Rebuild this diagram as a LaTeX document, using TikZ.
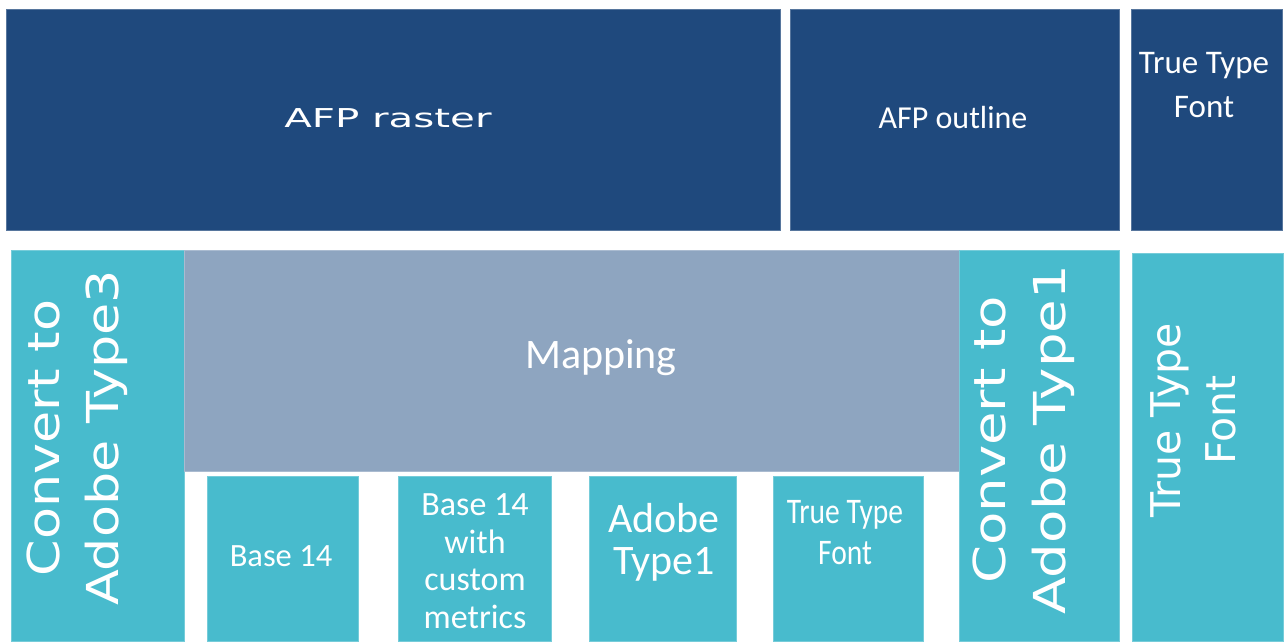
\documentclass[tikz,border=0pt]{standalone}
\usepackage{fontspec}
\setmainfont{Carlito}
\newfontfamily\dejavu{DejaVu Sans}
\definecolor{afpblue}{RGB}{31,73,125}
\definecolor{aqua}{RGB}{72,187,205}
\definecolor{mapgray}{RGB}{142,165,192}
\begin{document}
\begin{tikzpicture}[x=1pt,y=-1pt,
    box/.style={fill=#1, draw=#1!75!white, line width=0.6pt, anchor=north west,
                inner sep=0pt, outer sep=0pt},
    lbl/.style={text=white, inner sep=0pt, align=center}]
    \useasboundingbox (0,0) rectangle (1287,641);
    % top row
    \node[box=afpblue, minimum width=774pt, minimum height=221pt] (raster)  at (6,9)    {};
    \node[box=afpblue, minimum width=329pt, minimum height=221pt] (outline) at (790,9)  {};
    \node[box=afpblue, minimum width=151pt, minimum height=221pt] (ttftop)  at (1131,9) {};
    % bottom row
    \node[box=aqua,    minimum width=173pt, minimum height=391pt] (conva)   at (11,250)  {};
    \node[box=mapgray, minimum width=775pt, minimum height=221pt] (mapping) at (184,250) {};
    \node[box=aqua,    minimum width=160pt, minimum height=391pt] (convb)   at (959,250) {};
    \node[box=aqua,    minimum width=151pt, minimum height=388pt] (ttfright) at (1132,253) {};
    \node[box=aqua, minimum width=151pt, minimum height=165pt] (base)     at (207,476) {};
    \node[box=aqua, minimum width=153pt, minimum height=165pt] (custom)   at (398,476) {};
    \node[box=aqua, minimum width=147pt, minimum height=165pt] (adobe)    at (589,476) {};
    \node[box=aqua, minimum width=150pt, minimum height=165pt] (ttfsmall) at (773,476) {};
    % labels
    \node[lbl, anchor=base, font=\dejavu\fontsize{26}{30}\selectfont] (rastertxt) at (388,127) {\scalebox{1.55}[1]{AFP raster}};
    \node[lbl, anchor=base, font=\fontsize{32}{38}\selectfont] (outlinetxt) at (953,128) {AFP outline};
    \node[lbl, font=\fontsize{33}{44}\selectfont] (ttftoptxt) at (1204,85) {True Type\\Font};
    \node[lbl, anchor=base, font=\fontsize{42}{50}\selectfont] (mappingtxt) at (601,368) {Mapping};
    \node[lbl, anchor=base, font=\fontsize{32.5}{38}\selectfont] (basetxt) at (281,566) {Base 14};
    \node[lbl, font=\fontsize{34}{37.5}\selectfont] (customtxt) at (475,561) {Base 14\\with\\custom\\metrics};
    \node[lbl, font=\fontsize{42}{42}\selectfont] (adobetxt) at (664,542) {Adobe\\Type1};
    \node[lbl, font=\fontsize{36}{41}\selectfont] (ttfsmalltxt) at (845,533) {\scalebox{0.82}[1]{True Type}\\\scalebox{0.82}[1]{Font}};
    \node[lbl, rotate=90, font=\dejavu\fontsize{44}{59}\selectfont] (convatxt) at (77,438)
        {\scalebox{1.19}[1]{Convert to}\\\scalebox{1.19}[1]{Adobe Type3}};
    \node[lbl, rotate=90, font=\dejavu\fontsize{44}{60}\selectfont] (convbtxt) at (1024,440)
        {\scalebox{1.24}[1]{Convert to}\\\scalebox{1.24}[1]{Adobe Type1}};
    \node[lbl, rotate=90, font=\dejavu\fontsize{41}{55}\selectfont] (ttfrighttxt) at (1193,420) {True Type\\Font};
\end{tikzpicture}
\end{document}
